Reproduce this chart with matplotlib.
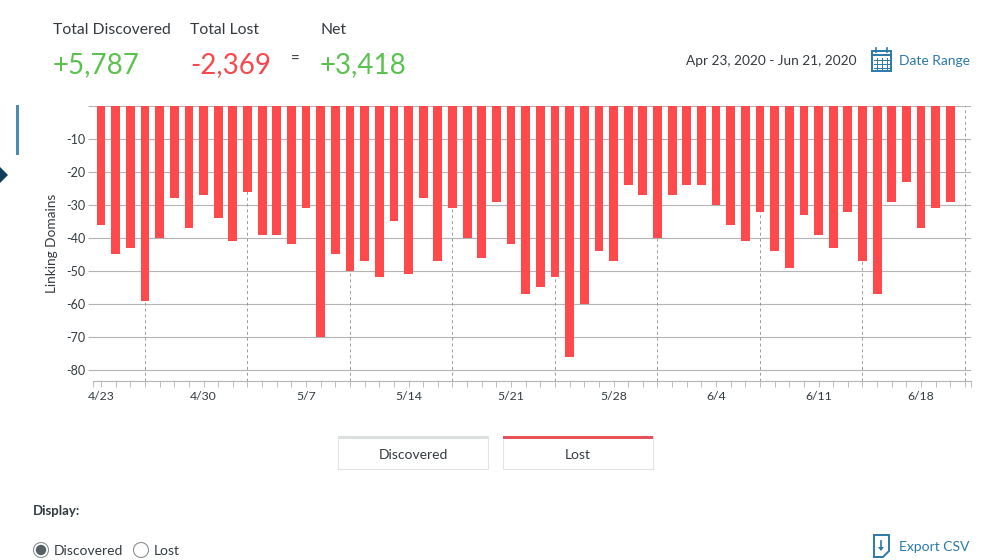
import matplotlib
matplotlib.use('Agg')  # Non-interactive backend
import matplotlib.pyplot as plt
from matplotlib.patches import Circle, Polygon, Rectangle

plt.rcParams['font.family'] = ['Lato', 'DejaVu Sans']

W, H = 1000, 560

# linking domains lost per day, starting 4/23
lost = [-36, -45, -43, -59, -40, -28, -37, -27, -34, -41,
        -26, -39, -39, -42, -31, -70, -45, -50, -47, -52,
        -35, -51, -28, -47, -31, -40, -46, -29, -42, -57,
        -55, -52, -76, -60, -44, -47, -24, -27, -40, -27,
        -24, -24, -30, -36, -41, -32, -44, -49, -33, -39,
        -43, -32, -47, -57, -29, -23, -37, -31, -29]
days = list(range(len(lost)))

date_positions = [0, 7, 14, 21, 28, 35, 42, 49, 56]
date_labels = ['4/23', '4/30', '5/7', '5/14', '5/21', '5/28', '6/4', '6/11', '6/18']
week_starts = [3, 10, 17, 24, 31, 38, 45, 52, 59]
y_ticks = [0, -10, -20, -30, -40, -50, -60, -70, -80]
y_labels = ['', '-10', '-20', '-30', '-40', '-50', '-60', '-70', '-80']

TEXT = '#333a40'
GREEN = '#5cc24f'
RED = '#f5494f'
BAR = '#ff4a4d'
BLUE = '#2b79a8'
GRID = '#b4b4b4'

fig = plt.figure(figsize=(W / 100, H / 100), dpi=100, facecolor='white')

# chart area, placed in pixels
left, right, top, bottom = 93, 971, 106, 381
ax = fig.add_axes([left / W, 1 - bottom / H, (right - left) / W, (bottom - top) / H])
x_min, x_max = -0.55, 59.41
ax.set_xlim(x_min, x_max)
ax.set_ylim(-83.4, 0)

ax.bar(days, lost, width=0.6, color=BAR, zorder=3)
ax.vlines(week_starts, -83.4, 0, color='#9a9a9a', lw=0.7, linestyles=(0, (3, 3)), zorder=2)

ax.set_yticks(y_ticks)
ax.set_yticklabels(y_labels, fontsize=9, color=TEXT)
ax.set_xticks(date_positions)
ax.set_xticklabels(date_labels, fontsize=8.8, color=TEXT)
ax.set_xticks([x_min] + days + [59, x_max], minor=True)
ax.tick_params(axis='x', which='both', length=4, width=0.6, color=GRID, pad=3)
ax.tick_params(axis='y', length=3.6, width=0.8, color=GRID, pad=2)
ax.grid(True, axis='y', color=GRID, lw=0.8, zorder=1)
ax.set_axisbelow(True)
ax.set_ylabel('Linking Domains', fontsize=9.8, color=TEXT)
ax.yaxis.set_label_coords((58 - left) / (right - left), 0.5)
for side in ['top', 'left', 'right']:
    ax.spines[side].set_visible(False)
ax.spines['bottom'].set_color(GRID)
ax.spines['bottom'].set_linewidth(0.8)

# everything around the chart, in pixel coordinates
ui = fig.add_axes([0, 0, 1, 1], zorder=5)
ui.set_xlim(0, W)
ui.set_ylim(H, 0)
ui.axis('off')

# summary row
ui.text(53, 30, 'Total Discovered', fontsize=11.3, color=TEXT, va='center')
ui.text(190, 30, 'Total Lost', fontsize=11.3, color=TEXT, va='center')
ui.text(320, 30, 'Net', fontsize=11.3, color=TEXT, va='center')
ui.text(53, 65, '+5,787', fontsize=20, color=GREEN, va='center')
ui.text(190, 65, '-2,369', fontsize=20, color=RED, va='center')
ui.text(295, 60, '=', fontsize=11, color=TEXT, va='center', ha='center')
ui.text(320, 65, '+3,418', fontsize=20, color=GREEN, va='center')

# date range
ui.text(857, 61, 'Apr 23, 2020 - Jun 21, 2020', fontsize=9.8, color=TEXT, va='center', ha='right')
ui.text(899, 61, 'Date Range', fontsize=10, color=BLUE, va='center')
ui.add_patch(Rectangle((872, 51), 19, 20, fill=False, ec=BLUE, lw=1.4))
ui.plot([872, 891], [55, 55], color=BLUE, lw=1.4)
for gx in [877, 882, 887]:
    ui.plot([gx, gx], [58, 69], color=BLUE, lw=0.7)
for gy in [60, 64, 68]:
    ui.plot([874, 889], [gy, gy], color=BLUE, lw=0.7)
for gx in [876, 887]:
    ui.plot([gx, gx], [48, 52], color=BLUE, lw=1.2)

# page side markers
ui.add_patch(Rectangle((16, 105), 3, 50, color='#4a8db0', lw=0))
ui.add_patch(Polygon([[-3, 164], [8, 175], [-3, 186]], color='#0f3f5c', lw=0))

# series buttons
for bx, label, cap in [(338, 'Discovered', '#dcdfe0'), (503, 'Lost', '#e8525a')]:
    ui.add_patch(Rectangle((bx, 436), 149.5, 33, fc='white', ec='#e2e4e5', lw=0.8))
    ui.add_patch(Rectangle((bx, 436), 149.5, 3, color=cap, lw=0))
    ui.text(bx + 75, 455, label, fontsize=10, color=TEXT, va='center', ha='center')

# display options
ui.text(33, 511, 'Display:', fontsize=9.5, color=TEXT, va='center', fontweight='bold')
ui.add_patch(Circle((41, 550), 7.5, fc='white', ec='#8a9094', lw=0.8))
ui.add_patch(Circle((41, 550), 5.2, fc='#556065', lw=0))
ui.text(54, 551, 'Discovered', fontsize=10, color=TEXT, va='center')
ui.add_patch(Circle((141, 550), 7.5, fc='white', ec='#8a9094', lw=0.8))
ui.text(154, 551, 'Lost', fontsize=10, color=TEXT, va='center')

# export link
ui.text(899, 547, 'Export CSV', fontsize=10, color=BLUE, va='center')
ui.add_patch(Polygon([[874, 535], [889, 535], [889, 551], [883, 557], [874, 557]],
                     closed=True, fill=False, ec=BLUE, lw=1.4))
ui.plot([881, 881], [541, 549], color=BLUE, lw=1.2)
ui.add_patch(Polygon([[878, 547], [884, 547], [881, 551]], color=BLUE, lw=0))

fig.savefig('out.png', dpi=100)
